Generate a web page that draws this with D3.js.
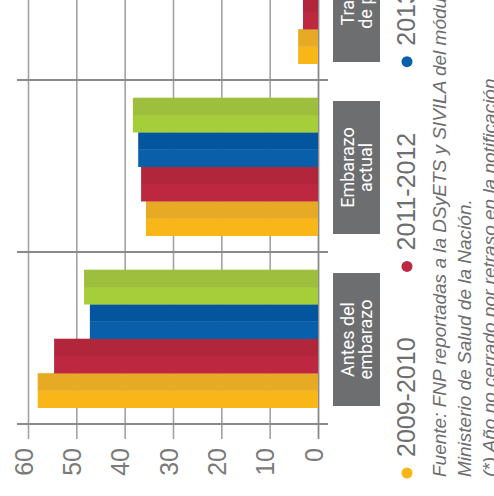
<!DOCTYPE html>
<html>
<head>
<meta charset="utf-8">
<script src="https://cdn.jsdelivr.net/npm/d3@7"></script>
<style>
  html, body { margin: 0; padding: 0; background: #fff; overflow: hidden; }
  svg { display: block; }
</style>
</head>
<body>
<svg id="chart" width="494" height="496"></svg>
<script>
// Categories (two-line labels), periods and percentage values per period
const categories = [["Antes del", "embarazo"], ["Embarazo", "actual"], ["Trabajo", "de parto"]];
const periods = ["2009-2010", "2011-2012", "2013", "2014(*)"];
const values2009 = [58.0, 35.6, 4.1];
const values2011 = [54.6, 36.6, 3.1];
const values2013 = [47.2, 37.2, 2.6];
const values2014 = [48.4, 38.3, 1.9];
const valueTicks = [0, 10, 20, 30, 40, 50, 60];
const sourceLines = [
  "Fuente: FNP reportadas a la DSyETS y SIVILA del módulo C2.",
  "Ministerio de Salud de la Nación.",
  "(*) Año no cerrado por retraso en la notificación."
];

const lightColors = ["#f8b618", "#bd2840", "#0a5fab", "#a6cd3a"];
const darkColors  = ["#e7aa24", "#b1263b", "#03569e", "#9dbf3d"];
const grey = "#6d6e70";

const seriesValues = [values2009, values2011, values2013, values2014];
const catKeys = categories.map(c => c.join(" "));

const svg = d3.select("#chart");
// The whole chart is laid out as a vertical bar chart and turned a quarter turn
const g = svg.append("g").attr("transform", "translate(0,496) rotate(-90)");

const x = d3.scaleBand().domain(catKeys).range([72, 72 + 172 * catKeys.length]).padding(0);
const xInner = d3.scaleBand().domain(periods).range([16, 154]).padding(0);
const y = d3.scaleLinear().domain([0, 60]).range([318, 28]);

// Value grid and tick labels
const axis = g.append("g")
  .attr("transform", "translate(57,0)")
  .call(d3.axisLeft(y).tickValues(valueTicks).tickSize(-600).tickPadding(9).tickFormat(d3.format("d")));
axis.select(".domain").remove();
axis.selectAll(".tick line")
  .attr("stroke", d => d === 0 ? "#8a8a8a" : "#a3a3a3")
  .attr("stroke-width", d => d === 0 ? 1.8 : 1.6);
axis.selectAll(".tick text")
  .attr("dy", "0.16em")
  .attr("fill", "#7a7a7a")
  .style("font-family", "'Liberation Sans', Arial, sans-serif")
  .style("font-size", "25px");

// Category separators
const edges = catKeys.map(k => x(k)).concat([x(catKeys[catKeys.length - 1]) + x.bandwidth()]);
g.append("g").selectAll("line").data(edges).join("line")
  .attr("x1", d => d).attr("x2", d => d)
  .attr("y1", 17).attr("y2", 328)
  .attr("stroke", "#8a8a8a").attr("stroke-width", 1.8);

// Bars: each drawn as two halves in two tones
const barData = [];
catKeys.forEach((k, ci) => {
  periods.forEach((p, pi) => {
    barData.push({ cat: k, period: p, pi, value: seriesValues[pi][ci] });
  });
});
const bars = g.append("g").selectAll("g").data(barData).join("g")
  .attr("transform", d => `translate(${x(d.cat) + xInner(d.period)},0)`);
bars.append("rect")
  .attr("x", 0).attr("width", xInner.bandwidth() / 2 + 0.3)
  .attr("y", d => y(d.value)).attr("height", d => y(0) - y(d.value))
  .attr("fill", d => lightColors[d.pi]);
bars.append("rect")
  .attr("x", xInner.bandwidth() / 2).attr("width", xInner.bandwidth() / 2 + 0.3)
  .attr("y", d => y(d.value)).attr("height", d => y(0) - y(d.value))
  .attr("fill", d => darkColors[d.pi]);

// Category label boxes
const boxes = g.append("g").selectAll("g").data(categories).join("g")
  .attr("transform", (d, i) => `translate(${x(catKeys[i]) + x.bandwidth() / 2 - 1.5},0)`);
boxes.append("rect")
  .attr("x", -66.5).attr("width", 133)
  .attr("y", 333).attr("height", 47)
  .attr("fill", grey);
const boxText = boxes.append("text")
  .attr("text-anchor", "middle")
  .attr("fill", "#fff")
  .style("font-family", "Roboto, 'Liberation Sans', sans-serif")
  .style("font-size", "18px");
boxText.selectAll("tspan").data(d => d).join("tspan")
  .attr("x", 0)
  .attr("y", (d, i) => 354 + i * 17.5)
  .text(d => d);

// Legend
const legend = g.append("g");
let lx = 23;
periods.forEach((p, i) => {
  legend.append("circle").attr("cx", lx).attr("cy", 407).attr("r", 5.5).attr("fill", lightColors[i]);
  const t = legend.append("text")
    .attr("x", lx + 16).attr("y", 415)
    .attr("fill", grey)
    .style("font-family", "'Liberation Sans', Arial, sans-serif")
    .style("font-size", "25px")
    .text(p);
  lx += 16 + t.node().getComputedTextLength() + 71;
});

// Source notes
g.append("g").selectAll("text").data(sourceLines).join("text")
  .attr("x", 19)
  .attr("y", (d, i) => 446 + i * 24.8)
  .attr("fill", grey)
  .style("font-family", "'Liberation Sans', Arial, sans-serif")
  .style("font-style", "italic")
  .style("font-size", "19px")
  .text(d => d);
</script>
</body>
</html>
